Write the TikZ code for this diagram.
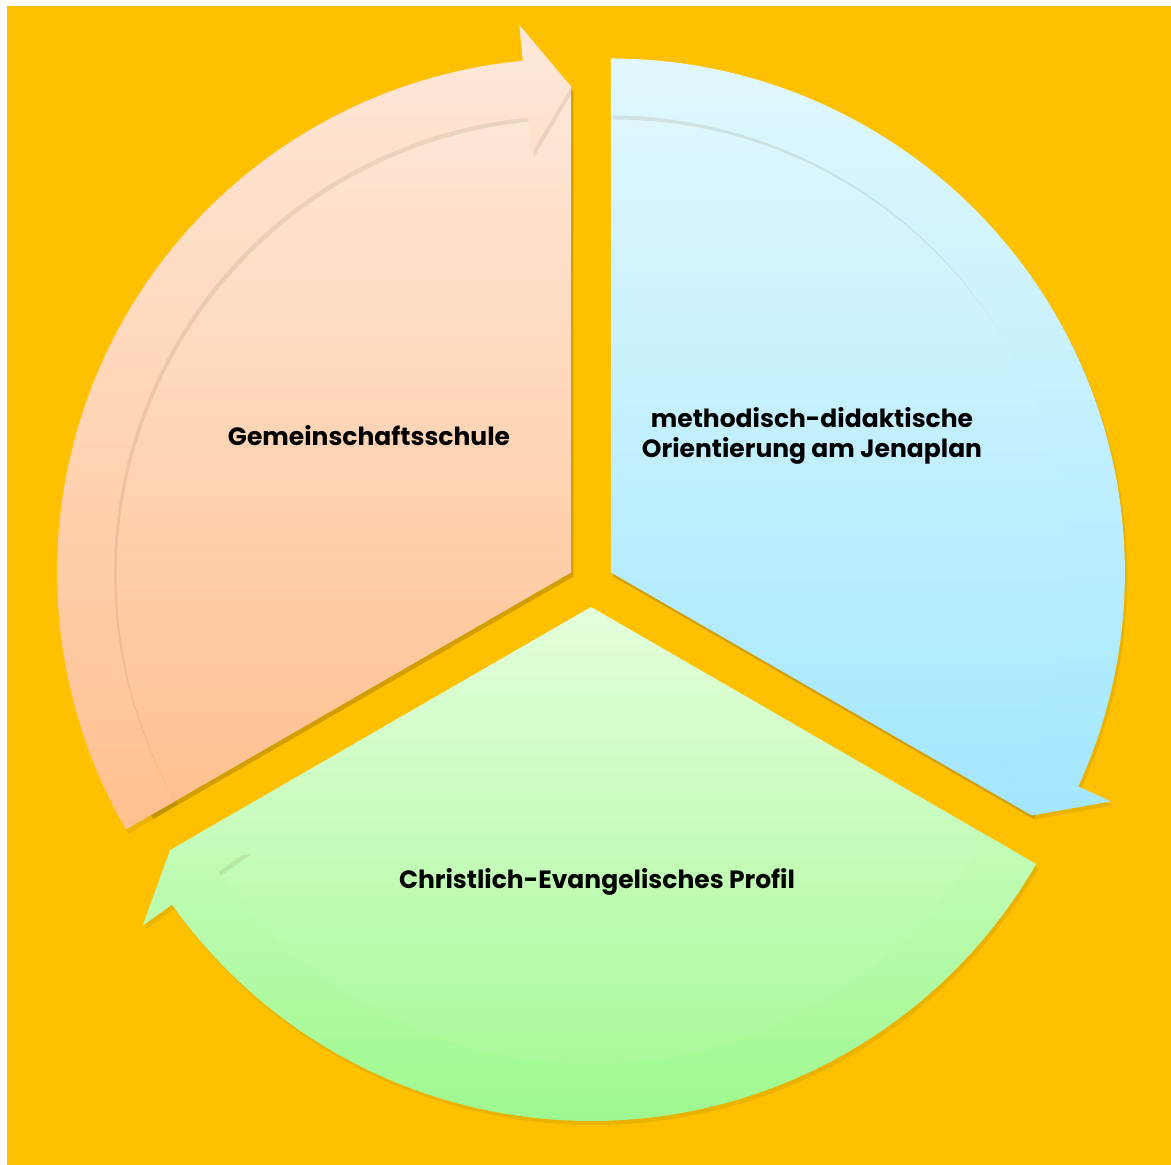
\documentclass[tikz,border=0pt]{standalone}
\usepackage{fontspec}
\setmainfont{Poppins}
\usetikzlibrary{calc}

\definecolor{bgyellow}{HTML}{FFC000}
\definecolor{peachtop}{HTML}{FEE8D9}
\definecolor{peachbot}{HTML}{FFC08F}
\definecolor{skytop}{HTML}{E0F8FD}
\definecolor{skybot}{HTML}{A3E7FF}
\definecolor{minttop}{HTML}{E3FFDB}
\definecolor{mintbot}{HTML}{9EF88E}

\tikzset{
  parttext/.style={font=\bfseries\fontsize{12.5}{15}\selectfont, align=center, text=black},
  castshadow/.style={fill=black!70!bgyellow, opacity=#1, transform canvas={shift={(1.2pt,-2pt)}}},
  castshadow/.default=0.25,
}

% #1 centre, #2 tip angle, #3/#4 pie colours, #5/#6 arrow colours
\newcommand{\segment}[6]{%
\fill[castshadow] (#1) -- ++(#2+120:485) arc[start angle=#2+120, end angle=#2, radius=485] -- cycle;
\shade[top color=#3, bottom color=#4] (#1) -- ++(#2+120:485) arc[start angle=#2+120, end angle=#2, radius=485] -- cycle;
\fill[castshadow=0.1] (#1) ++(#2+120:514) arc[start angle=#2+120, end angle=#2+5.4, radius=514]
  -- ($(#1)+(#2+5.4:550)$) -- ($(#1)+(#2:486)$) -- ($(#1)+(#2+5.4:421)$) -- ($(#1)+(#2+5.4:457)$)
  arc[start angle=#2+5.4, end angle=#2+120, radius=457] -- cycle;
\shade[top color=#5, bottom color=#6] (#1) ++(#2+120:514) arc[start angle=#2+120, end angle=#2+5.4, radius=514]
  -- ($(#1)+(#2+5.4:550)$) -- ($(#1)+(#2:486)$) -- ($(#1)+(#2+5.4:421)$) -- ($(#1)+(#2+5.4:457)$)
  arc[start angle=#2+5.4, end angle=#2+120, radius=457] -- cycle;
}

\begin{document}
\begin{tikzpicture}[x=0.5pt, y=0.5pt]
\fill[white] (0,0) rectangle (1171,1165);
\fill[bgyellow] (7,0) rectangle (1171,1159);
\useasboundingbox (0,0) rectangle (1171,1165);

\coordinate (mid) at (591,581);
\coordinate (cpeach) at ($(mid)+(150:23)$);
\coordinate (csky) at ($(mid)+(30:23)$);
\coordinate (cmint) at ($(mid)+(270:23)$);

\segment{cpeach}{90}{peachtop}{peachbot}{peachtop}{peachbot}
\segment{csky}{-30}{skytop}{skybot}{skytop}{skybot}
\segment{cmint}{210}{minttop}{mintbot}{minttop}{mintbot}

\node[parttext] (gemein) at (369,729) {Gemeinschaftsschule};
\node[parttext] (jena) at (812,729) {methodisch-didaktische\\Orientierung am Jenaplan};
\node[parttext] (profil) at (597,283) {Christlich-Evangelisches Profil};
\end{tikzpicture}
\end{document}
